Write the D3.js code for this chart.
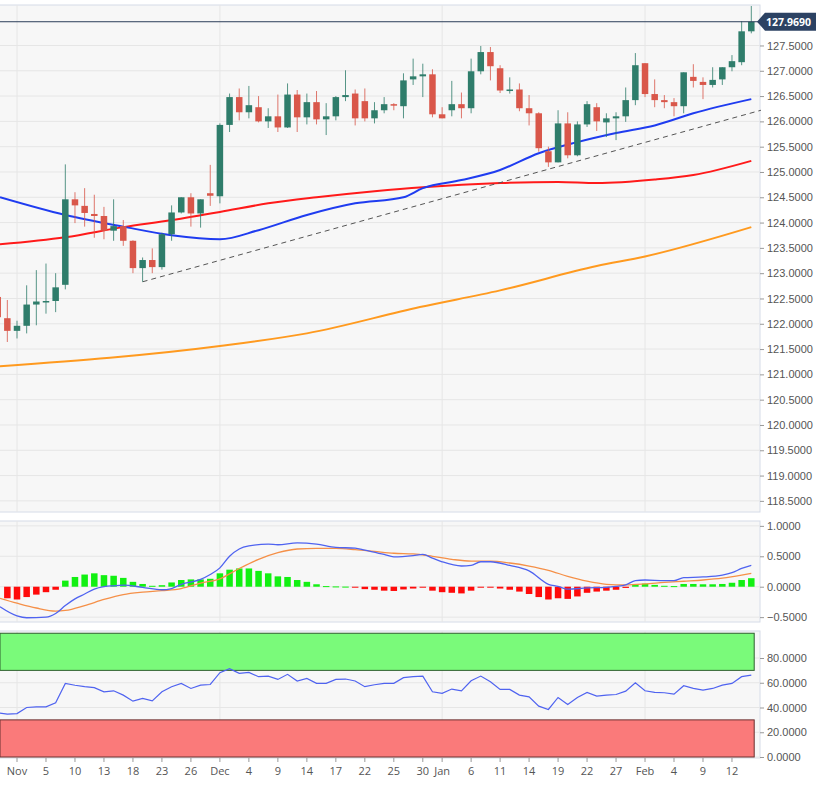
<!DOCTYPE html>
<html>
<head>
<meta charset="utf-8">
<script src="https://cdn.jsdelivr.net/npm/d3@7"></script>
<style>
  body { margin: 0; background: #fff; font-family: "Open Sans", "Noto Sans", sans-serif; }
  svg text { fill: #555; font-size: 11px; }
</style>
</head>
<body>
<svg id="chart" width="833" height="787"></svg>
<script>
// Candles: first entry is bar index -2
const firstIndex = -2;
const opens  = [122.53,122.11,121.86,121.96,122.38,122.44,122.45,122.77,124.46,124.33,124.17,124.13,123.84,123.93,123.64,123.10,123.26,123.12,123.77,124.20,124.50,124.18,124.58,124.52,125.93,126.48,126.18,126.28,126.00,126.10,125.88,126.53,126.08,126.38,126.04,126.10,126.48,126.55,126.40,126.06,126.22,126.34,126.30,126.83,126.89,126.93,126.14,126.22,126.34,126.26,126.99,127.37,127.05,126.60,126.63,126.26,126.16,125.41,125.19,125.96,125.33,125.94,126.28,125.98,126.06,126.10,126.42,127.15,126.54,126.42,126.38,126.30,126.88,126.78,126.72,126.83,127.07,127.17,127.78];
const highs  = [122.60,122.47,122.06,122.76,123.06,123.19,123.00,125.15,124.60,124.68,124.55,124.31,124.46,124.05,123.65,123.31,123.49,123.80,124.34,124.50,124.58,124.46,125.14,125.96,126.55,126.65,126.70,126.50,126.26,126.53,126.75,126.62,126.55,126.60,126.36,126.50,127.01,126.63,126.65,126.38,126.48,126.36,126.95,127.24,127.14,127.03,126.28,126.80,126.57,127.24,127.49,127.47,127.11,126.87,126.75,126.52,126.18,125.50,126.22,126.18,126.00,126.40,126.36,126.16,126.18,126.67,127.35,127.15,126.83,126.52,126.46,126.97,127.13,126.87,127.07,127.07,127.31,127.98,128.28];
const lows   = [122.00,121.64,121.71,121.81,121.97,122.20,122.23,122.68,123.99,123.92,123.70,123.67,123.64,123.54,123.00,122.83,123.00,123.07,123.64,124.18,123.92,123.90,124.33,124.38,125.79,126.02,126.06,125.98,125.87,125.79,125.87,125.79,125.94,125.94,125.73,126.02,126.40,125.92,126.00,125.96,126.16,126.22,126.06,126.72,126.48,126.08,126.06,126.10,126.06,126.16,126.93,126.81,126.56,126.55,126.20,125.92,125.40,125.10,125.19,125.27,125.31,125.89,125.81,125.69,125.63,125.99,126.32,126.48,126.28,126.26,126.10,126.16,126.67,126.44,126.67,126.72,126.99,127.11,127.74];
const closes = [122.13,121.86,121.96,122.38,122.44,122.45,122.72,124.46,124.34,124.19,124.13,123.84,123.93,123.64,123.10,123.26,123.12,123.77,124.20,124.50,124.18,124.46,124.53,125.93,126.48,126.18,126.32,126.00,126.10,125.88,126.53,126.08,126.38,126.04,126.10,126.48,126.52,126.06,126.06,126.22,126.34,126.32,126.81,126.89,126.93,126.14,126.06,126.34,126.26,126.99,127.37,127.09,126.61,126.63,126.26,126.16,125.47,125.19,125.96,125.33,125.94,126.34,126.00,126.06,126.10,126.42,127.11,126.54,126.42,126.38,126.30,126.97,126.80,126.72,126.82,127.07,127.19,127.78,127.97];
const lastPrice = 127.969;

// Moving averages as [bar index, value]
const maBlue = [[-1.76,124.5],[5,124.15],[11,123.92],[16,123.75],[21,123.67],[25,123.85],[30,124.15],[35,124.38],[40,124.5],[42,124.68],[46,124.84],[50,125.04],[54,125.37],[58,125.59],[62,125.77],[66,125.92],[70,126.16],[76,126.44]];
const maRed = [[-1.76,123.57],[5,123.71],[11,123.91],[16,124.05],[21,124.21],[26,124.38],[31,124.5],[37,124.62],[42,124.7],[50,124.78],[56,124.8],[60,124.78],[66,124.85],[70,124.94],[76,125.22]];
const maOrange = [[-1.76,121.16],[21,121.56],[30,121.81],[41.7,122.33],[50,122.66],[60,123.14],[65,123.33],[76,123.91]];
const trendLine = [[13,122.83],[77,126.22]];

// MACD histogram starts at bar index -1
const histFirst = -1;
const histValues = [-0.19,-0.21,-0.17,-0.13,-0.09,-0.05,0.10,0.16,0.20,0.22,0.19,0.18,0.145,0.08,0.045,0.015,0.025,0.07,0.11,0.12,0.12,0.13,0.22,0.28,0.30,0.30,0.26,0.22,0.17,0.16,0.11,0.08,0.04,0.01,0.005,0.002,-0.002,-0.04,-0.05,-0.065,-0.07,-0.045,-0.03,-0.015,-0.065,-0.09,-0.10,-0.11,-0.065,-0.01,-0.005,-0.03,-0.05,-0.08,-0.12,-0.17,-0.21,-0.19,-0.20,-0.16,-0.10,-0.08,-0.065,-0.05,-0.02,0.04,0.05,0.03,0.015,0.01,0.045,0.045,0.04,0.04,0.045,0.065,0.11,0.14];
const macdLine = [[-1.76,-0.33],[0,-0.48],[1,-0.51],[3,-0.5],[4,-0.44],[5,-0.31],[6,-0.2],[7,-0.12],[8,-0.04],[9,0],[10,0.015],[11,0.025],[13,-0.01],[15,-0.05],[16,-0.03],[17,0.04],[19,0.12],[20,0.2],[21,0.31],[22,0.5],[23,0.62],[24,0.67],[26,0.7],[27,0.69],[29,0.72],[31,0.7],[33,0.645],[35,0.635],[36,0.6],[38,0.53],[39,0.49],[41,0.51],[42,0.53],[43,0.47],[44,0.41],[46,0.34],[47,0.35],[48,0.41],[49,0.41],[51,0.35],[53,0.26],[55,0.04],[56,0.005],[57,-0.04],[59,-0.02],[61,-0.01],[62,0.005],[63,0.03],[64,0.1],[65,0.11],[67,0.1],[68,0.1],[69,0.15],[71,0.16],[73,0.19],[74,0.23],[75,0.3],[76,0.35]];
const signalLine = [[-1.76,-0.19],[0,-0.27],[2,-0.35],[4,-0.4],[5,-0.39],[7,-0.31],[9,-0.21],[11,-0.13],[13,-0.09],[15,-0.065],[17,-0.03],[19,0.06],[21,0.13],[23,0.3],[25,0.45],[27,0.56],[29,0.62],[31,0.63],[33,0.63],[35,0.61],[37,0.58],[39,0.55],[41,0.54],[43,0.5],[45,0.45],[47,0.42],[49,0.42],[51,0.39],[53,0.34],[55,0.27],[57,0.17],[59,0.09],[61,0.04],[63,0.03],[65,0.045],[67,0.07],[69,0.09],[71,0.11],[73,0.14],[75,0.19],[76,0.22]];

// RSI starts at bar index -2 (first point at left edge)
const rsiFirst = -2;
const rsiValues = [35.7,34.6,35.1,40,40.5,40.5,43.8,59.5,58,56.8,56,52.7,53.5,50,45.1,47.3,45.4,52.7,56.8,59.5,55.4,58.1,58.6,68.1,71.4,67.6,68.4,64.9,65.4,62.7,66.8,61.4,63.5,59.5,59.5,62.7,63,61.4,56.8,58.4,59.5,59.5,64.1,64.9,65.4,52.7,51.4,54.9,53.5,61.6,65.4,60.8,54.6,54.6,50,48.6,41.1,38.4,48.1,42.4,48.1,52.2,49.2,50,50.5,53.2,60,53.5,52.2,51.9,50.8,57.6,55.4,54.1,55.4,58.1,59.5,64.9,66.2];
const rsiZones = { overbought: 70, oversold: 30 };

const priceTicks = d3.range(118.5, 127.51, 0.5);
const macdTicks = [1, 0.5, 0, -0.5];
const rsiTicks = [80, 60, 40, 20, 0];
const dateLabels = [[0,"Nov"],[3,"5"],[6,"10"],[9,"13"],[12,"18"],[15,"23"],[18,"26"],[21,"Dec"],[24,"4"],[27,"9"],[30,"14"],[33,"17"],[36,"22"],[39,"25"],[42,"30"],[44,"Jan"],[47,"6"],[50,"11"],[53,"14"],[56,"19"],[59,"22"],[62,"27"],[65,"Feb"],[68,"4"],[71,"9"],[74,"12"]];
const monthIdx = [0, 21, 44, 65];

const svg = d3.select('#chart');
const plotRight = 760;
const x = d3.scaleLinear().domain([-1.76, 76.9]).range([0, plotRight]);
const barW = 6.5;

const panels = [
  { top: 5, bottom: 512 },
  { top: 521, bottom: 622 },
  { top: 631, bottom: 758 }
];
const yP = d3.scaleLinear().domain([118.28, 128.3]).range([512, 5]);
const yM = d3.scaleLinear().domain([-0.58, 1.08]).range([622, 521]);
const yR = d3.scaleLinear().domain([0, 80]).range([757, 658]);

// panel backgrounds
panels.forEach(p => {
  svg.append('rect').attr('x', -1).attr('y', p.top).attr('width', plotRight + 1).attr('height', p.bottom - p.top)
    .attr('fill', '#f7f7f7').attr('stroke', '#d6dce8');
});

function gridAndAxis(scale, ticks, fmt, panel) {
  const g = svg.append('g');
  g.selectAll('line.h').data(ticks).enter().append('line')
    .attr('x1', 0).attr('x2', plotRight).attr('y1', d => scale(d)).attr('y2', d => scale(d))
    .attr('stroke', '#e6e6e6');
  g.selectAll('line.v').data(monthIdx).enter().append('line')
    .attr('x1', d => x(d)).attr('x2', d => x(d)).attr('y1', panel.top).attr('y2', panel.bottom)
    .attr('stroke', '#e6e6e6');
  const ax = svg.append('g').attr('transform', `translate(${plotRight},0)`)
    .call(d3.axisRight(scale).tickValues(ticks).tickFormat(fmt).tickSize(4));
  ax.select('.domain').remove();
  ax.selectAll('line').attr('stroke', '#999');
  ax.selectAll('text').attr('x', 7);
}
gridAndAxis(yP, priceTicks, d3.format('.4f'), panels[0]);
gridAndAxis(yM, macdTicks, d3.format('.4f'), panels[1]);
gridAndAxis(yR, rsiTicks, d3.format('.4f'), panels[2]);

// main: moving averages
const line = (ys) => d3.line().x(d => x(d[0])).y(d => ys(d[1])).curve(d3.curveMonotoneX);
svg.append('path').datum(maOrange).attr('d', line(yP)).attr('fill', 'none').attr('stroke', '#ff9a1f').attr('stroke-width', 2);
svg.append('path').datum(maRed).attr('d', line(yP)).attr('fill', 'none').attr('stroke', '#ff1a1a').attr('stroke-width', 2);
svg.append('path').datum(maBlue).attr('d', line(yP)).attr('fill', 'none').attr('stroke', '#1f3cf0').attr('stroke-width', 2);
svg.append('path').datum(trendLine).attr('d', d3.line().x(d => x(d[0])).y(d => yP(d[1])))
  .attr('fill', 'none').attr('stroke', '#555').attr('stroke-width', 1).attr('stroke-dasharray', '5,4');

// candles
const candles = opens.map((o, k) => ({ i: firstIndex + k, o, h: highs[k], l: lows[k], c: closes[k] }));
const cg = svg.append('g');
candles.forEach(d => {
  const col = d.c >= d.o ? '#2f7d6b' : '#d9574a';
  cg.append('line').attr('x1', x(d.i)).attr('x2', x(d.i)).attr('y1', yP(d.h)).attr('y2', yP(d.l))
    .attr('stroke', col).attr('stroke-width', 1).attr('opacity', 0.8);
  const top = yP(Math.max(d.o, d.c)), bot = yP(Math.min(d.o, d.c));
  cg.append('rect').attr('x', x(d.i) - barW / 2).attr('y', top).attr('width', barW)
    .attr('height', Math.max(1.5, bot - top)).attr('fill', col);
});

// last price line & label
svg.append('line').attr('x1', 0).attr('x2', plotRight).attr('y1', yP(lastPrice)).attr('y2', yP(lastPrice))
  .attr('stroke', '#2c3e5a').attr('stroke-width', 1);
const ly = yP(lastPrice);
svg.append('path').attr('d', `M${plotRight - 3},${ly} L${plotRight + 5},${ly - 9} L${plotRight + 56},${ly - 9} L${plotRight + 56},${ly + 9} L${plotRight + 5},${ly + 9} Z`)
  .attr('fill', '#2c4263');
svg.append('text').attr('x', plotRight + 6).attr('y', ly + 4).text(d3.format('.4f')(lastPrice))
  .style('fill', '#fff').style('font-weight', 'bold').style('font-size', '10.5px');

// MACD histogram
svg.append('g').selectAll('rect').data(histValues).enter().append('rect')
  .attr('x', (d, k) => x(histFirst + k) - barW / 2)
  .attr('y', d => Math.min(yM(d), yM(0)))
  .attr('width', barW)
  .attr('height', d => Math.max(1, Math.abs(yM(d) - yM(0))))
  .attr('fill', d => d >= 0 ? '#12f012' : '#ff0a0a');
svg.append('path').datum(signalLine).attr('d', line(yM)).attr('fill', 'none').attr('stroke', '#f59048').attr('stroke-width', 1.3);
svg.append('path').datum(macdLine).attr('d', line(yM)).attr('fill', 'none').attr('stroke', '#4f63f0').attr('stroke-width', 1.3);

// RSI zones
const zoneRight = x(76.3);
svg.append('rect').attr('x', 0).attr('y', yR(100)).attr('width', zoneRight).attr('height', yR(rsiZones.overbought) - yR(100))
  .attr('fill', '#7afa7a').attr('stroke', '#2f5f2f').attr('stroke-width', 1);
svg.append('rect').attr('x', 0).attr('y', yR(rsiZones.oversold)).attr('width', zoneRight).attr('height', yR(0) - yR(rsiZones.oversold))
  .attr('fill', '#fa7a7a').attr('stroke', '#6a3030').attr('stroke-width', 1);
svg.append('path').datum(rsiValues.map((v, k) => [rsiFirst + k, v]))
  .attr('d', d3.line().x(d => x(d[0])).y(d => yR(d[1])))
  .attr('fill', 'none').attr('stroke', '#4f63f0').attr('stroke-width', 1.2);

// date axis
const dg = svg.append('g');
dg.selectAll('line').data(dateLabels).enter().append('line')
  .attr('x1', d => x(d[0])).attr('x2', d => x(d[0])).attr('y1', 758).attr('y2', 762).attr('stroke', '#999');
dg.selectAll('text').data(dateLabels).enter().append('text')
  .attr('x', d => x(d[0])).attr('y', 775).attr('text-anchor', 'middle').text(d => d[1]);
</script>
</body>
</html>
